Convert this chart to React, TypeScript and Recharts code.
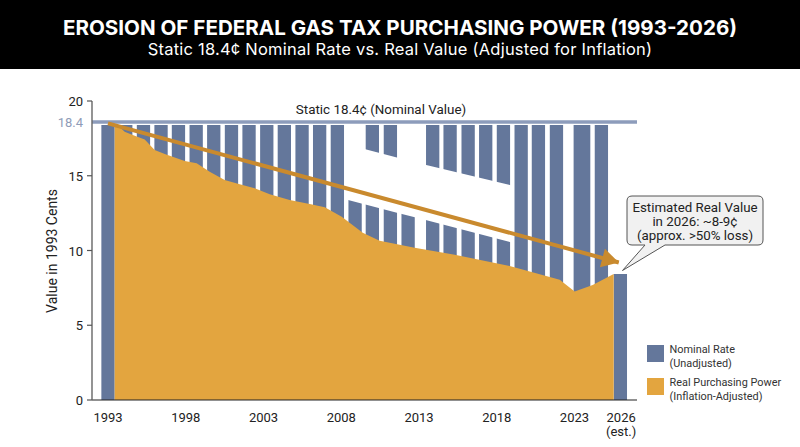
import { Area, Bar, ComposedChart, Line, Rectangle, ReferenceLine, XAxis, YAxis } from "recharts";

const FONT = "Roboto, sans-serif";

const xTicks = [1993, 1998, 2003, 2008, 2013, 2018, 2023, 2026];
const yTicks = [0, 5, 10, 15, 18.4, 20];

// bars are not evenly spaced in the source, so these are read off as positions on the year axis
const barYears = [
  1993, 1994.14, 1995.28, 1996.41, 1997.53, 1998.67, 1999.8, 2000.94, 2002.07, 2003.21,
  2004.34, 2005.48, 2006.61, 2007.75, 2008.89, 2010, 2011.16, 2012.3, 2013.88, 2015,
  2016.16, 2017.29, 2018.43, 2019.57, 2020.68, 2021.84, 2023.48, 2024.73, 2025.95
];
const nominalValues = [
  18.4, 18.4, 18.4, 18.4, 18.4, 18.4, 18.4, 18.4, 18.4, 18.4,
  18.4, 18.4, 18.4, 18.4, 18.4, 18.4, 18.4, 18.4, 18.4, 18.4,
  18.4, 18.4, 18.4, 18.4, 18.4, 18.4, 18.4, 18.4, 8.43
];
const wideBarYear = 2023.48;

const realYears = [
  1993.43, 1993.75, 1994.07, 1994.59, 1995.36, 1996, 1996.65, 1997.93, 1998.7, 1999.54,
  2000.5, 2001.47, 2002.43, 2003.4, 2004.68, 2005.97, 2006.94, 2008.03, 2009.38, 2010.47,
  2012.72, 2015.3, 2018.83, 2020.12, 2022.05, 2023.01, 2024.17, 2025.52
];
const realValues = [
  18.46, 18.26, 17.94, 17.72, 17.43, 16.72, 16.45, 15.99, 15.83, 15.27,
  14.72, 14.43, 14.16, 13.76, 13.38, 13.11, 12.89, 12.26, 11.18, 10.66,
  10.19, 9.71, 8.97, 8.59, 8.04, 7.25, 7.7, 8.43
];

// white cut-out behind the trend label
const gapYears = [2008.32, 2009.48, 2009.49, 2011.7, 2011.71, 2013.05, 2013.06, 2018.96];
const gapLow = [13.41, 13.1, 13.1, 12.5, 12.5, 12.14, 12.14, 10.54];
const gapHigh = [18.47, 18.47, 16.79, 16.19, 18.47, 18.47, 15.82, 14.35];

const trendYears = [1993, 2025.85];
const trendValues = [18.5, 9.2];

const nominalLineValue = 18.6;

const barData = barYears.map((year, i) => ({ year, nominal: nominalValues[i] }));
const realData = realYears.map((year, i) => ({ year, real: realValues[i] }));
const gapData = gapYears.map((year, i) => ({ year, gap: [gapLow[i], gapHigh[i]] }));
const trendData = trendYears.map((year, i) => ({ year, trend: trendValues[i] }));

function YearTick({ x, y, payload }: any) {
  return (
    <g>
      <text x={x} y={y + 14} textAnchor="middle" fontSize={13} fontFamily={FONT} fill="#222">
        {payload.value}
      </text>
      {payload.value === 2026 && (
        <text x={x} y={y + 28} textAnchor="middle" fontSize={13} fontFamily={FONT} fill="#222">
          (est.)
        </text>
      )}
    </g>
  );
}

function ValueTick({ x, y, payload }: any) {
  if (payload.value === 18.4) {
    return (
      <text x={x - 1} y={y + 2} textAnchor="end" fontSize={13} fontFamily={FONT} fill="#8f9cb8">
        18.4
      </text>
    );
  }
  return (
    <g>
      <line x1={x + 3} x2={x + 8} y1={y} y2={y} stroke="#555" strokeWidth={1.2} />
      <text x={x - 1} y={y + 5} textAnchor="end" fontSize={13} fontFamily={FONT} fill="#222">
        {payload.value}
      </text>
    </g>
  );
}

// the year axis gives almost no band width, so the bar width is set here
function NominalBar(props: any) {
  const barWidth = props.payload.year === wideBarYear ? 16.7 : 13.3;
  const center = props.x + props.width / 2;
  return <Rectangle x={center - barWidth / 2} y={props.y} width={barWidth} height={props.height} fill="#64779b" />;
}

function ArrowHead(props: any) {
  if (props.index !== trendData.length - 1) return <g key="start" />;
  return (
    <polygon
      key="head"
      points="0,0 -17,-9.5 -17,9.5"
      transform={`translate(${props.cx} ${props.cy}) rotate(15.3)`}
      fill="#c98a2e"
    />
  );
}

function LegendRow({ top, color, lines }: { top: number; color: string; lines: string[] }) {
  return (
    <div style={{ position: "absolute", left: 647, top, display: "flex", gap: 6, fontFamily: FONT, fontSize: 10.9, lineHeight: "13.5px", color: "#333" }}>
      <div style={{ width: 16.5, height: 16.5, background: color }} />
      <div style={{ marginTop: -2 }}>
        {lines.map((line) => (
          <div key={line}>{line}</div>
        ))}
      </div>
    </div>
  );
}

export default function App() {
  return (
    <div style={{ position: "absolute", left: 0, top: 0, width: 800, height: 447, background: "#fff", overflow: "hidden" }}>
      <div style={{ position: "absolute", left: 0, top: 0, width: 800, height: 69, background: "#000", color: "#fff", textAlign: "center", fontFamily: "Inter, sans-serif" }}>
        <div style={{ position: "absolute", top: 14, width: 800, fontSize: 20.6, fontWeight: 700, lineHeight: "28px" }}>
          EROSION OF FEDERAL GAS TAX PURCHASING POWER (1993-2026)
        </div>
        <div style={{ position: "absolute", top: 38, width: 800, fontSize: 16.5, letterSpacing: 0.22, lineHeight: "22px" }}>
          Static 18.4¢ Nominal Rate vs. Real Value (Adjusted for Inflation)
        </div>
      </div>

      <div style={{ position: "absolute", left: 0, top: 0 }}>
        <ComposedChart data={barData} width={800} height={447} margin={{ top: 101, right: 163, bottom: 0, left: 32 }}>
          <XAxis
            dataKey="year"
            type="number"
            domain={[1991.97, 2027.02]}
            ticks={xTicks}
            interval={0}
            allowDataOverflow
            height={47}
            tickLine={false}
            stroke="#222"
            strokeWidth={1.2}
            tick={YearTick}
          />
          <YAxis
            type="number"
            domain={[0, 20]}
            ticks={yTicks}
            interval={0}
            allowDataOverflow
            width={60}
            tickLine={false}
            stroke="#666"
            strokeWidth={1.4}
            tick={ValueTick}
          />
          <Bar dataKey="nominal" isAnimationActive={false} shape={NominalBar} />
          <Area data={gapData} dataKey="gap" type="linear" stroke="none" fill="#fff" fillOpacity={1} dot={false} activeDot={false} isAnimationActive={false} zIndex={310} />
          <Area data={realData} dataKey="real" type="linear" stroke="none" fill="#e3a53f" fillOpacity={1} dot={false} activeDot={false} isAnimationActive={false} zIndex={320} />
          <ReferenceLine y={nominalLineValue} stroke="#8d9cbb" strokeWidth={3.5} zIndex={330} />
          <Line data={trendData} dataKey="trend" type="linear" stroke="#c98a2e" strokeWidth={4} dot={ArrowHead} activeDot={false} isAnimationActive={false} zIndex={340} />

          <text x={53} y={251} transform="rotate(-90 53 251)" textAnchor="middle" dominantBaseline="middle" fontSize={14} fontFamily={FONT} fill="#222">
            Value in 1993 Cents
          </text>
          <text x={381} y={114} textAnchor="middle" fontSize={13.4} fontFamily={FONT} fill="#222">
            Static 18.4¢ (Nominal Value)
          </text>
          <g transform="rotate(10.5 438 188)" fontSize={13.4} fontFamily={FONT} fill="#222" textAnchor="middle">
            <text x={438} y={184}>Descending Trend:</text>
            <text x={438} y={200}>Real Value Erosion</text>
          </g>
          <g>
            <path
              d="M632 196 H758 Q763 196 763 201 V240 Q763 245 758 245 H665 L622.5 270.5 L645 245 H632 Q627 245 627 240 V201 Q627 196 632 196 Z"
              fill="#f1f1f1"
              stroke="#555"
              strokeWidth={1}
            />
            <g fontSize={13.3} fontFamily={FONT} fill="#222" textAnchor="middle">
              <text x={695} y={211.5}>Estimated Real Value</text>
              <text x={695} y={225.8}>in 2026: ~8-9¢</text>
              <text x={695} y={240}>(approx. &gt;50% loss)</text>
            </g>
          </g>
        </ComposedChart>
      </div>

      <LegendRow top={345} color="#64779b" lines={["Nominal Rate", "(Unadjusted)"]} />
      <LegendRow top={378} color="#e3a53f" lines={["Real Purchasing Power", "(Inflation-Adjusted)"]} />
    </div>
  );
}
